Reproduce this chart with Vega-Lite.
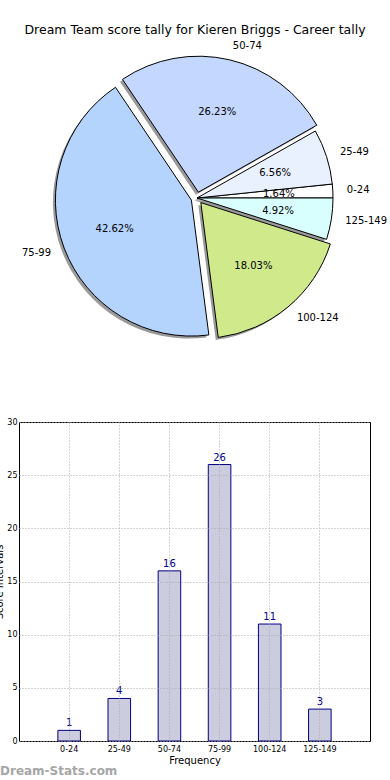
{
  "$schema": "https://vega.github.io/schema/vega-lite/v6.json",
  "autosize": {"type": "pad"},
  "padding": {"left": -6, "top": 23, "right": 0, "bottom": 0},
  "background": "white",
  "config": {"font": "DejaVu Sans", "view": {"stroke": null}},
  "data": {"values": [
    {"bracket": "0-24", "lo": 0, "count": 1, "pct": "1.64%"},
    {"bracket": "25-49", "lo": 25, "count": 4, "pct": "6.56%"},
    {"bracket": "50-74", "lo": 50, "count": 16, "pct": "26.23%"},
    {"bracket": "75-99", "lo": 75, "count": 26, "pct": "42.62%"},
    {"bracket": "100-124", "lo": 100, "count": 11, "pct": "18.03%"},
    {"bracket": "125-149", "lo": 125, "count": 3, "pct": "4.92%"}
  ]},
  "spacing": 74,
  "bounds": "flush",
  "vconcat": [
    {
      "width": 356,
      "height": 300,
      "title": {"text": "Dream Team score tally for Kieren Briggs - Career tally", "fontSize": 12.5, "fontWeight": "normal", "color": "black", "anchor": "middle", "frame": "group", "dx": -2, "offset": 5},
      "encoding": {
        "theta": {"field": "count", "type": "quantitative", "stack": true, "scale": {"range": [1.5708, -4.7124]}},
        "order": {"field": "lo", "type": "quantitative"}
      },
      "layer": [
        {"mark": {"type": "arc", "radius": 136, "fill": "#9a9a9a", "xOffset": -2.5, "yOffset": 2.5},
         "encoding": {"opacity": {"condition": {"test": "indexof(['0-24','25-49','125-149'], datum.bracket) >= 0", "value": 1}, "value": 0}}},
        {"mark": {"type": "arc", "radius": 136, "fill": "#9a9a9a", "xOffset": -1.1, "yOffset": -3.3},
         "encoding": {"opacity": {"condition": {"test": "datum.bracket == '50-74'", "value": 1}, "value": 0}}},
        {"mark": {"type": "arc", "radius": 136, "fill": "#9a9a9a", "xOffset": -8.1, "yOffset": 4.6},
         "encoding": {"opacity": {"condition": {"test": "datum.bracket == '75-99'", "value": 1}, "value": 0}}},
        {"mark": {"type": "arc", "radius": 136, "fill": "#9a9a9a", "xOffset": 1.3, "yOffset": 7.1},
         "encoding": {"opacity": {"condition": {"test": "datum.bracket == '100-124'", "value": 1}, "value": 0}}},
        {"mark": {"type": "arc", "radius": 136, "stroke": "black", "strokeWidth": 1},
         "encoding": {
           "color": {"field": "bracket", "type": "nominal", "legend": null, "scale": {"domain": ["0-24", "25-49", "50-74", "75-99", "100-124", "125-149"], "range": ["#ffffff", "#eaf1fe", "#c4d7fe", "#b4d4fe", "#cfe98b", "#d8fffe"]}},
           "opacity": {"condition": {"test": "indexof(['0-24','25-49','125-149'], datum.bracket) >= 0", "value": 1}, "value": 0}}},
        {"mark": {"type": "arc", "radius": 136, "stroke": "black", "strokeWidth": 1, "xOffset": 1.4, "yOffset": -5.8},
         "encoding": {
           "color": {"field": "bracket", "type": "nominal", "legend": null},
           "opacity": {"condition": {"test": "datum.bracket == '50-74'", "value": 1}, "value": 0}}},
        {"mark": {"type": "arc", "radius": 136, "stroke": "black", "strokeWidth": 1, "xOffset": -5.6, "yOffset": 2.1},
         "encoding": {
           "color": {"field": "bracket", "type": "nominal", "legend": null},
           "opacity": {"condition": {"test": "datum.bracket == '75-99'", "value": 1}, "value": 0}}},
        {"mark": {"type": "arc", "radius": 136, "stroke": "black", "strokeWidth": 1, "xOffset": 3.8, "yOffset": 4.6},
         "encoding": {
           "color": {"field": "bracket", "type": "nominal", "legend": null},
           "opacity": {"condition": {"test": "datum.bracket == '100-124'", "value": 1}, "value": 0}}},
        {"mark": {"type": "text", "radius": 82, "fontSize": 10, "color": "black"},
         "encoding": {"text": {"field": "pct"}, "opacity": {"condition": {"test": "indexof(['0-24','25-49','125-149'], datum.bracket) >= 0", "value": 1}, "value": 0}}},
        {"mark": {"type": "text", "radius": 82, "fontSize": 10, "color": "black", "xOffset": 1.4, "yOffset": -5.8},
         "encoding": {"text": {"field": "pct"}, "opacity": {"condition": {"test": "datum.bracket == '50-74'", "value": 1}, "value": 0}}},
        {"mark": {"type": "text", "radius": 82, "fontSize": 10, "color": "black", "xOffset": -5.6, "yOffset": 2.1},
         "encoding": {"text": {"field": "pct"}, "opacity": {"condition": {"test": "datum.bracket == '75-99'", "value": 1}, "value": 0}}},
        {"mark": {"type": "text", "radius": 82, "fontSize": 10, "color": "black", "xOffset": 3.8, "yOffset": 4.6},
         "encoding": {"text": {"field": "pct"}, "opacity": {"condition": {"test": "datum.bracket == '100-124'", "value": 1}, "value": 0}}},
        {"mark": {"type": "text", "radius": 150, "fontSize": 10, "color": "black", "align": "left", "baseline": "middle"},
         "encoding": {"text": {"field": "bracket"}, "opacity": {"condition": {"test": "indexof(['0-24','25-49','125-149'], datum.bracket) >= 0", "value": 1}, "value": 0}}},
        {"mark": {"type": "text", "radius": 150, "fontSize": 10, "color": "black", "align": "left", "baseline": "middle", "xOffset": 1.4, "yOffset": -5.8},
         "encoding": {"text": {"field": "bracket"}, "opacity": {"condition": {"test": "datum.bracket == '50-74'", "value": 1}, "value": 0}}},
        {"mark": {"type": "text", "radius": 150, "fontSize": 10, "color": "black", "align": "right", "baseline": "middle", "xOffset": -5.6, "yOffset": 2.1},
         "encoding": {"text": {"field": "bracket"}, "opacity": {"condition": {"test": "datum.bracket == '75-99'", "value": 1}, "value": 0}}},
        {"mark": {"type": "text", "radius": 150, "fontSize": 10, "color": "black", "align": "left", "baseline": "middle", "xOffset": 3.8, "yOffset": 4.6},
         "encoding": {"text": {"field": "bracket"}, "opacity": {"condition": {"test": "datum.bracket == '100-124'", "value": 1}, "value": 0}}}
      ]
    },
    {
      "width": 351,
      "height": 319,
      "view": {"stroke": "black", "strokeWidth": 1},
      "title": {"text": "Dream-Stats.com", "orient": "bottom", "anchor": "start", "frame": "group", "dx": -19, "offset": 1, "fontSize": 12, "fontWeight": "bold", "color": "#a6a6a6"},
      "encoding": {
        "x": {"field": "bracket", "type": "nominal", "sort": null,
              "scale": {"paddingInner": 0.55, "paddingOuter": 0.775},
              "axis": {"title": "Frequency", "labelAngle": 0, "labelFontSize": 8, "labelColor": "black", "titleFontSize": 10, "titleFontWeight": "normal", "titleColor": "black", "domain": false, "ticks": false, "grid": true, "bandPosition": 0.5, "gridDash": [1, 2], "gridColor": "#a8a8a8", "labelPadding": 4, "titlePadding": 2, "zindex": 1}},
        "y": {"field": "count", "type": "quantitative",
              "scale": {"domain": [0, 30]},
              "axis": {"title": "Score Intervals", "values": [0, 5, 10, 15, 20, 25, 30], "labelFontSize": 8, "labelColor": "black", "titleFontSize": 10, "titleFontWeight": "normal", "titleColor": "black", "domain": false, "ticks": false, "grid": true, "gridDash": [1, 2], "gridColor": "#a8a8a8", "labelPadding": 2, "titlePadding": 2, "zindex": 1}}
      },
      "layer": [
        {"mark": {"type": "bar", "fill": "#ccccdf", "stroke": "#000080", "strokeWidth": 1}},
        {"mark": {"type": "text", "dy": -7, "color": "#00008b", "fontSize": 10}, "encoding": {"text": {"field": "count", "type": "quantitative"}}}
      ]
    }
  ]
}
